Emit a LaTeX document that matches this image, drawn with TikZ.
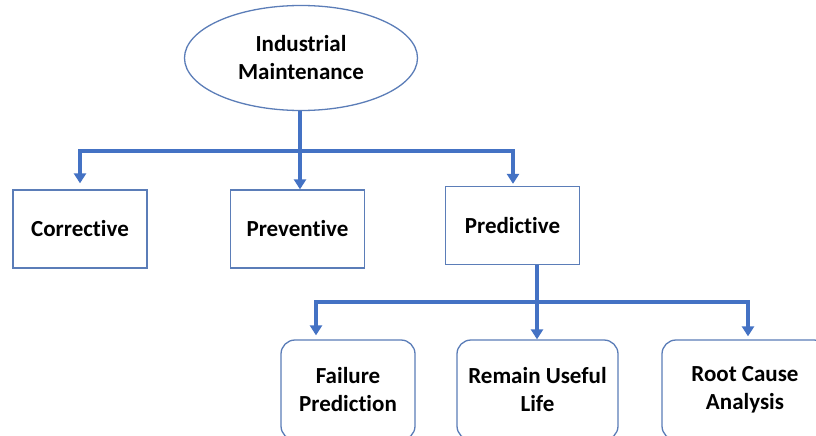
\documentclass[tikz,border=0pt]{standalone}
\usepackage{fontspec}
\setmainfont{Carlito}[Ligatures=NoCommon]
\usetikzlibrary{arrows.meta,shapes.geometric,calc}
\definecolor{linkblue}{RGB}{68,114,196}
\definecolor{edgeblue}{RGB}{91,125,184}
\begin{document}
\begin{tikzpicture}[x=1pt,y=-1pt,
  lbl/.style={font=\fontsize{23}{28}\selectfont\bfseries, align=center, text=black},
  sqbox/.style={lbl, draw=edgeblue, line width=1.3pt, minimum width=134pt, minimum height=78pt, inner sep=0pt},
  rbox/.style={lbl, draw=edgeblue, line width=1.3pt, rounded corners=14pt, minimum height=100pt, inner sep=0pt},
  conn/.style={draw=linkblue, line width=3.4pt},
  arr/.style={conn, -{Triangle[width=12pt,length=10pt]}}
]
\useasboundingbox (0,0) rectangle (816,436);
\clip (0,0) rectangle (816,436);
\fill[white] (0,0) rectangle (816,436);

\node[ellipse, draw=edgeblue, line width=1.3pt, minimum width=233pt, minimum height=105pt, inner sep=0pt, lbl] (top) at (301,58) {Industrial\\Maintenance};

\node[sqbox] (corr) at (80,229) {Corrective};
\node[sqbox] (prev) at (297.5,229) {Preventive};
\node[sqbox] (pred) at (512.5,225.5) {Predictive};

\node[rbox, minimum width=134pt] (fail) at (348,390) {Failure\\Prediction};
\node[rbox, minimum width=161pt] (rul) at (537.5,390) {Remain Useful\\Life};
\node[rbox, minimum width=166pt] (rca) at (745,390) {Root Cause\\Analysis};

\coordinate (b1) at (300,151);
\coordinate (bl) at (80,151);
\coordinate (br) at (513,151);
\coordinate (b2) at (537,302);
\coordinate (fl) at (316,302);
\coordinate (fr) at (748,302);

\draw[conn] (top.south -| b1) -- (b1);
\draw[arr, shorten >=6pt] (b1) -- (bl) -- (bl |- corr.north);
\draw[arr] (b1) -- (b1 |- prev.north);
\draw[arr, shorten >=2pt] (b1) -- (br) -- (br |- pred.north);

\draw[conn] (pred.south -| b2) -- (b2);
\draw[arr, shorten >=4pt] (b2) -- (fl) -- (fl |- fail.north);
\draw[arr] (b2) -- (b2 |- rul.north);
\draw[arr, shorten >=3pt] (b2) -- (fr) -- (fr |- rca.north);
\end{tikzpicture}
\end{document}
